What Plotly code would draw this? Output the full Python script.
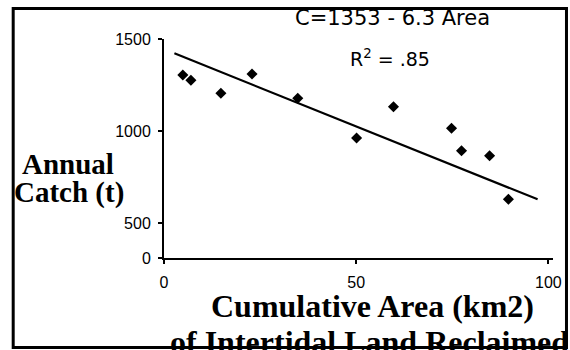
import plotly.graph_objects as go

# ---- data ----
area_km2 = [4.9, 7.0, 14.8, 22.9, 34.8, 50.1, 59.7, 74.8, 77.4, 84.7, 89.6]
catch_t = [1304, 1276, 1205, 1310, 1178, 962, 1132, 1015, 893, 866, 629]

fit_x = [2.7, 97.2]
fit_y = [1422, 629]

x_tickvals = [0, 50, 100]
x_ticktext = ["0", "50", "100"]
y_break = 310  # broken axis: bottom of axis is labelled 0
y_tickvals = [y_break, 500, 1000, 1500]
y_ticktext = ["0", "500", "1000", "1500"]

equation_text = "C=1353 - 6.3 Area"
r2_text = "R<sup>2</sup> = .85"
y_title_lines = ["Annual", "Catch (t)"]
x_title_lines = ["Cumulative Area (km2)", "of Intertidal Land Reclaimed"]

# ---- layout geometry (pixels) ----
WIDTH, HEIGHT = 570, 350
L, R, T, B = 164, 553.5, 39, 258
PW, PH = R - L, B - T


def px(xp):
    return (xp - L) / PW


def py(yp):
    return (B - yp) / PH


fig = go.Figure()
fig.add_trace(go.Scatter(
    x=fit_x, y=fit_y, mode="lines",
    line=dict(color="black", width=2.2), showlegend=False, hoverinfo="skip"))
fig.add_trace(go.Scatter(
    x=area_km2, y=catch_t, mode="markers",
    marker=dict(symbol="diamond", size=8.5, color="black", line=dict(width=0)),
    showlegend=False))

serif = "Liberation Serif"
sans = "DejaVu Sans"

ann = []
# y-axis title (two lines, left)
ann.append(dict(text="<b>%s</b>" % y_title_lines[0], x=px(22), y=py(179.5),
                xanchor="left", yanchor="bottom",
                font=dict(family=serif, size=29, color="black")))
ann.append(dict(text="<b>%s</b>" % y_title_lines[1], x=px(14), y=py(208.5),
                xanchor="left", yanchor="bottom",
                font=dict(family=serif, size=29, color="black")))
# x-axis title
ann.append(dict(text="<b>%s</b>" % x_title_lines[0], x=px(372.5), y=py(324),
                xanchor="center", yanchor="bottom",
                font=dict(family=serif, size=32, color="black")))
ann.append(dict(text="<b>%s</b>" % x_title_lines[1], x=px(170), y=py(359.9),
                xanchor="left", yanchor="bottom",
                font=dict(family=serif, size=32, color="black")))
# regression text
ann.append(dict(text=equation_text, x=px(295), y=py(30),
                xanchor="left", yanchor="bottom",
                font=dict(family=sans, size=21, color="black")))
ann.append(dict(text=r2_text, x=px(350), y=py(69.5),
                xanchor="left", yanchor="bottom",
                font=dict(family=sans, size=19, color="black")))
for a in ann:
    a.update(xref="paper", yref="paper", showarrow=False, borderpad=0, borderwidth=0)

shapes = [
    dict(type="rect", xref="paper", yref="paper",
         x0=px(13), x1=px(567), y0=py(347.5), y1=py(8.5),
         line=dict(color="black", width=3), layer="above"),
]

fig.update_layout(
    width=WIDTH, height=HEIGHT, autosize=False,
    margin=dict(l=L, r=WIDTH - R, t=T, b=HEIGHT - B, pad=0),
    paper_bgcolor="white", plot_bgcolor="white",
    annotations=ann, shapes=shapes, showlegend=False,
    xaxis=dict(range=[0, 101.2], tickvals=x_tickvals, ticktext=x_ticktext,
               showgrid=False, zeroline=False, showline=True, linecolor="black",
               linewidth=2, ticks="outside", ticklen=4, tickwidth=1.5,
               tickcolor="black", ticklabelstandoff=5, automargin=False,
               tickfont=dict(family="Liberation Sans", size=16, color="black")),
    yaxis=dict(range=[y_break, 1500], tickvals=y_tickvals, ticktext=y_ticktext,
               showgrid=False, zeroline=False, showline=True, linecolor="black",
               linewidth=2, ticks="outside", ticklen=4, tickwidth=1.5,
               tickcolor="black", ticklabelstandoff=4, automargin=False,
               tickfont=dict(family="Liberation Sans", size=16, color="black")),
)

fig.write_html("out.html")
